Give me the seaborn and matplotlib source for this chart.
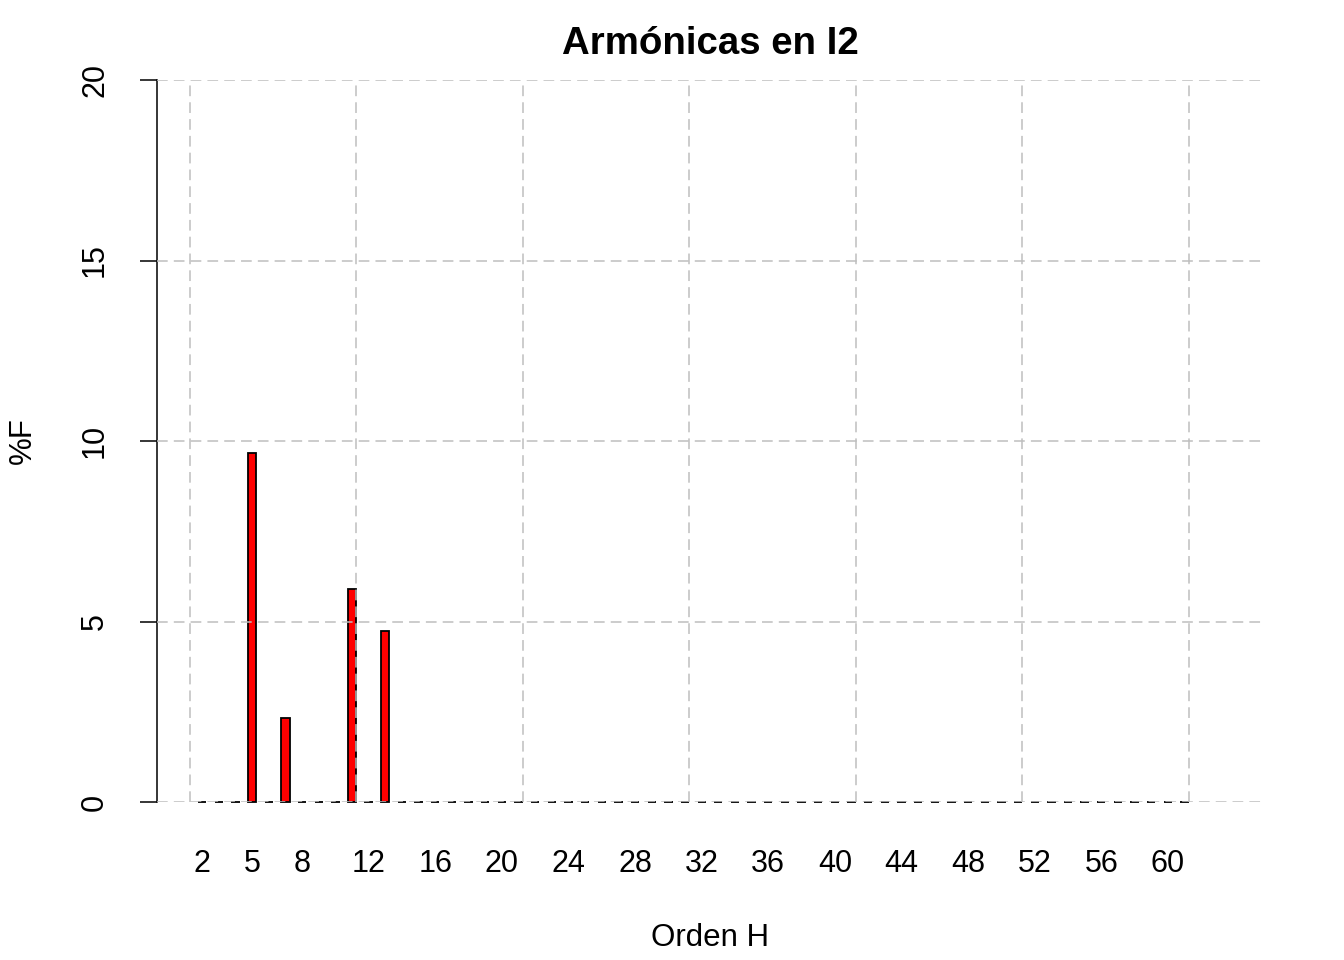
import matplotlib

matplotlib.use("Agg")

import matplotlib.pyplot as plt
import numpy as np
import pandas as pd
import seaborn as sns

# harmonic orders 2..63, values in % of fundamental
HARMONICS = list(range(2, 64))
PCT_F = [
    0.0, 0.0, 0.0, 9.66, 0.0, 2.32, 0.0, 0.0, 0.0, 5.91,   # 2-11
    0.0, 4.73, 0.0, 0.0, 0.0, 0.0, 0.0, 0.0, 0.0, 0.0,     # 12-21
    0.0, 0.0, 0.0, 0.0, 0.0, 0.0, 0.0, 0.0, 0.0, 0.0,      # 22-31
    0.0, 0.0, 0.0, 0.0, 0.0, 0.0, 0.0, 0.0, 0.0, 0.0,      # 32-41
    0.0, 0.0, 0.0, 0.0, 0.0, 0.0, 0.0, 0.0, 0.0, 0.0,      # 42-51
    0.0, 0.0, 0.0, 0.0, 0.0, 0.0, 0.0, 0.0, 0.0, 0.0,      # 52-61
    np.nan, np.nan,                                        # 62-63
]
X_TICKS = [2, 5, 8, 12, 16, 20, 24, 28, 32, 36, 40, 44, 48, 52, 56, 60]
Y_TICKS = [0, 5, 10, 15, 20]

TITLE = "Armónicas en I2"
X_LABEL = "Orden H"
Y_LABEL = "%F"

df = pd.DataFrame({"orden": HARMONICS, "pct": PCT_F})

sns.set_style("white")
plt.rcParams["font.family"] = ["Liberation Sans", "DejaVu Sans"]
plt.rcParams["text.color"] = "black"
plt.rcParams["xtick.color"] = "black"
plt.rcParams["ytick.color"] = "black"

fig = plt.figure(figsize=(13.44, 9.6), dpi=100)
ax = fig.add_axes([157 / 1344, 158 / 960, 1106 / 1344, 722 / 960])

sns.barplot(
    data=df.dropna(), x="orden", y="pct", order=HARMONICS, width=0.5,
    color="#FF0000", saturation=1, edgecolor="black", linewidth=1.3,
    ax=ax,
)
for p in ax.patches:
    p.set_clip_on(False)

# R barplot layout (width 0.5, space 1): bar i centred at 0.75 + i,
# usr range padded 4%, grid every 10 units from 0
n = len(HARMONICS)
span = n - 0.5
shift = -0.75
ax.set_xlim(0.5 - 0.04 * span + shift, n + 0.04 * span + shift)
ax.set_ylim(Y_TICKS[0], Y_TICKS[-1])

grid_kw = dict(color="#BEBEBE", lw=1.1, ls=(0, (7, 4)), zorder=3)
for gx in np.arange(0, n + 1, 10):
    ax.axvline(gx + shift, **grid_kw)
for gy in Y_TICKS:
    ax.axhline(gy, **grid_kw)

ax.set_xticks([HARMONICS.index(t) for t in X_TICKS])
ax.set_xticklabels([str(t) for t in X_TICKS], fontsize=22)
ax.tick_params(axis="x", length=0, pad=34)
ax.set_yticks(Y_TICKS)
ax.set_yticklabels([str(t) for t in Y_TICKS], fontsize=22,
                   rotation=90, va="center")
ax.tick_params(axis="y", length=12.2, width=1.1, pad=21.6, color="black",
               left=True)

for side in ["top", "right", "bottom"]:
    ax.spines[side].set_visible(False)
ax.spines["left"].set_color("black")
ax.spines["left"].set_linewidth(1.1)

ax.set_xlabel("")
ax.set_ylabel("")
ax.set_title(TITLE, fontsize=27.6, fontweight="bold", pad=18.7)
fig.text(710 / 1344, 1 - 938 / 960, X_LABEL, fontsize=22.5,
         ha="center", va="center")
fig.text(23 / 1344, 1 - 441 / 960, Y_LABEL, fontsize=22.5,
         ha="center", va="center", rotation=90)

fig.savefig("out.png", dpi=100)
